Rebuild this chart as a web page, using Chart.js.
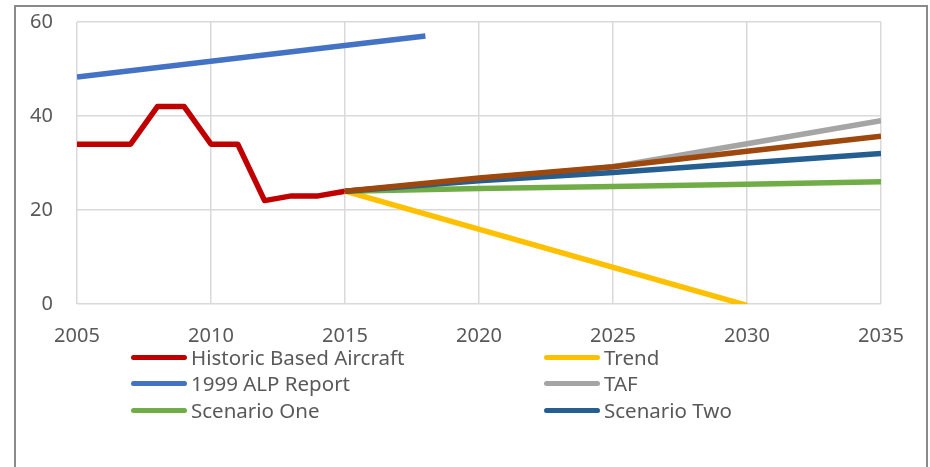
<!DOCTYPE html>
<html>
<head>
<meta charset="utf-8">
<script src="https://cdn.jsdelivr.net/npm/chart.js@4.4.0/dist/chart.umd.min.js"></script>
<style>
  html, body { margin: 0; padding: 0; background: #fff; }
  #wrap { position: relative; width: 930px; height: 467px; overflow: hidden; }
  #frame { position: absolute; left: 14px; top: 5px; width: 914px; height: 520px; border: 2px solid #8a8a8a; box-sizing: border-box; }
  canvas { position: absolute; left: 0; top: 0; }
  #legend { position: absolute; left: 0; top: 0; font-family: "Noto Sans", sans-serif; font-size: 20.5px; color: #595959; }
  .item { position: absolute; display: flex; align-items: center; height: 26px; white-space: nowrap; }
  .swatch { width: 56px; height: 5px; border-radius: 3px; margin-right: 4px; }
</style>
</head>
<body>
<div id="wrap">
  <div id="frame"></div>
  <canvas id="chart" width="930" height="467"></canvas>
  <div id="legend"></div>
</div>
<script>
// --- Data ---
const historicYears = [2005, 2006, 2007, 2008, 2009, 2010, 2011, 2012, 2013, 2014, 2015];
const historicValues = [34, 34, 34, 42, 42, 34, 34, 22, 23, 23, 24];

const alpYears = [2005, 2018];
const alpValues = [48.3, 57];

const trendYears = [2015, 2030];
const trendValues = [24, -0.3];

const forecastYears = [2015, 2020, 2025, 2030, 2035];
const tafValues = [24, 26.5, 29.2, 34.1, 39];
const scenarioOneValues = [24, 24.6, 25, 25.5, 26];
const scenarioTwoValues = [24, 26.2, 28, 30, 32];
const scenarioThreeValues = [24, 26.8, 29.2, 32.5, 35.7];

const yTicks = [0, 20, 40, 60];
const xTicks = [2005, 2010, 2015, 2020, 2025, 2030, 2035];

// legend order (2 columns, row-major)
const legendOrder = ['Historic Based Aircraft', 'Trend', '1999 ALP Report', 'TAF', 'Scenario One', 'Scenario Two'];

function toPoints(xs, ys) {
    return xs.map((x, i) => ({ x: x, y: ys[i] }));
}

const series = [
    { label: 'Historic Based Aircraft', color: '#C00000', xs: historicYears, ys: historicValues },
    { label: 'Trend', color: '#FFC000', xs: trendYears, ys: trendValues },
    { label: '1999 ALP Report', color: '#4472C4', xs: alpYears, ys: alpValues },
    { label: 'TAF', color: '#A5A5A5', xs: forecastYears, ys: tafValues },
    { label: 'Scenario One', color: '#70AD47', xs: forecastYears, ys: scenarioOneValues },
    { label: 'Scenario Two', color: '#255E91', xs: forecastYears, ys: scenarioTwoValues },
    { label: 'Scenario Three', color: '#9E480E', xs: forecastYears, ys: scenarioThreeValues }
];

const datasets = series.map((s, i) => ({
    label: s.label,
    data: toPoints(s.xs, s.ys),
    borderColor: s.color,
    backgroundColor: s.color,
    borderWidth: 5.5,
    pointRadius: 0,
    tension: 0,
    fill: false,
    borderJoinStyle: 'round',
    order: series.length - i // later series drawn on top, like Excel
}));

const tickFont = { family: '"Noto Sans", sans-serif', size: 20 };

const chart = new Chart(document.getElementById('chart'), {
    type: 'line',
    data: { datasets: datasets },
    options: {
        responsive: false,
        animation: false,
        layout: { padding: { left: 0, right: 49, top: 22, bottom: 0 } },
        plugins: { legend: { display: false }, tooltip: { enabled: false } },
        scales: {
            x: {
                type: 'linear',
                min: xTicks[0],
                max: xTicks[xTicks.length - 1],
                afterBuildTicks: (axis) => { axis.ticks = xTicks.map(v => ({ value: v })); },
                afterFit: (axis) => {
                    axis.height = 163;
                    axis.paddingLeft = 0;
                    axis.paddingRight = 0;
                },
                grid: { color: '#D9D9D9', lineWidth: 1.5, drawTicks: false },
                border: { display: false },
                ticks: { color: '#595959', font: tickFont, padding: 20, maxRotation: 0, callback: v => String(v) }
            },
            y: {
                min: yTicks[0],
                max: yTicks[yTicks.length - 1],
                afterBuildTicks: (axis) => { axis.ticks = yTicks.map(v => ({ value: v })); },
                afterFit: (axis) => {
                    axis.width = 77;
                    axis.paddingTop = 0;
                    axis.paddingBottom = 0;
                },
                grid: { color: '#D9D9D9', lineWidth: 1.5, drawTicks: false },
                border: { display: false },
                ticks: { color: '#595959', font: tickFont, padding: 24 }
            }
        }
    }
});

// --- HTML legend built from the chart datasets ---
function buildLegend() {
    const box = document.getElementById('legend');
    const colLeft = [131, 544];
    const rowTop = [344, 370, 397];
    legendOrder.forEach((name, idx) => {
        const ds = chart.data.datasets.find(d => d.label === name);
        const item = document.createElement('div');
        item.className = 'item';
        item.style.left = colLeft[idx % 2] + 'px';
        item.style.top = rowTop[Math.floor(idx / 2)] + 'px';
        item.innerHTML = '<span class="swatch" style="background:' + ds.borderColor + '"></span><span>' + ds.label + '</span>';
        box.appendChild(item);
    });
}
buildLegend();
</script>
</body>
</html>
